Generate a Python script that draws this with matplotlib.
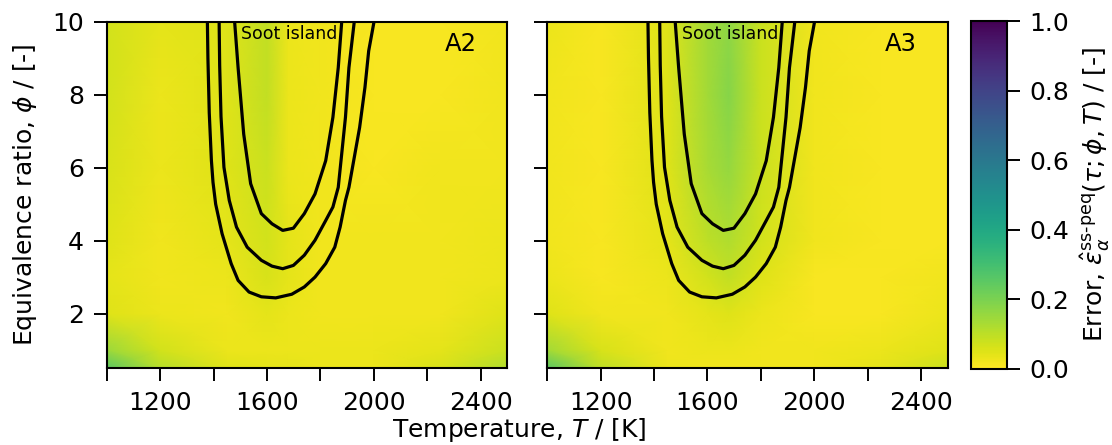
import matplotlib
matplotlib.use("Agg")
import matplotlib.pyplot as plt
import numpy as np

plt.rcParams['font.family'] = ['DejaVu Sans']
plt.rcParams['mathtext.fontset'] = 'dejavusans'

# grid of the error maps
T_nodes = [1000, 1200, 1450, 1600, 1680, 1800, 2000, 2250, 2500]
phi_nodes = [0.5, 1.0, 2.0, 3.0, 4.0, 6.0, 8.0, 10.0]

err_A2 = [
    [0.26, 0.11, 0.05, 0.04, 0.04, 0.03, 0.03, 0.06, 0.12],
    [0.15, 0.07, 0.03, 0.03, 0.03, 0.03, 0.03, 0.04, 0.08],
    [0.05, 0.03, 0.02, 0.04, 0.03, 0.02, 0.02, 0.02, 0.05],
    [0.04, 0.02, 0.03, 0.06, 0.04, 0.02, 0.02, 0.02, 0.03],
    [0.05, 0.02, 0.04, 0.07, 0.04, 0.02, 0.02, 0.02, 0.03],
    [0.06, 0.03, 0.05, 0.08, 0.03, 0.02, 0.01, 0.02, 0.02],
    [0.07, 0.03, 0.05, 0.09, 0.03, 0.02, 0.01, 0.01, 0.02],
    [0.07, 0.04, 0.05, 0.09, 0.03, 0.02, 0.01, 0.01, 0.02],
]

err_A3 = [
    [0.26, 0.10, 0.03, 0.02, 0.02, 0.02, 0.02, 0.04, 0.08],
    [0.14, 0.06, 0.02, 0.03, 0.03, 0.02, 0.02, 0.03, 0.05],
    [0.05, 0.02, 0.02, 0.04, 0.05, 0.03, 0.01, 0.01, 0.03],
    [0.03, 0.01, 0.03, 0.07, 0.09, 0.05, 0.01, 0.01, 0.02],
    [0.02, 0.01, 0.04, 0.10, 0.12, 0.07, 0.02, 0.01, 0.01],
    [0.02, 0.01, 0.05, 0.13, 0.16, 0.08, 0.02, 0.01, 0.01],
    [0.02, 0.01, 0.05, 0.14, 0.18, 0.08, 0.02, 0.01, 0.01],
    [0.03, 0.01, 0.05, 0.14, 0.17, 0.08, 0.02, 0.01, 0.01],
]

# soot island contour lines (T, phi)
outer_T = [1377, 1379, 1384, 1392, 1398, 1408, 1432, 1466, 1492, 1533, 1579,
           1633, 1693, 1740, 1780, 1820, 1854, 1874, 1894, 1907, 1927, 1947,
           1967, 1981, 2001]
outer_phi = [10.0, 9.0, 7.5, 6.2, 5.6, 5.0, 4.19, 3.37, 2.91, 2.59, 2.46,
             2.43, 2.53, 2.73, 3.00, 3.37, 3.82, 4.37, 5.10, 5.46, 6.28, 7.10,
             8.20, 9.20, 10.0]

middle_T = [1421, 1423, 1428, 1439, 1459, 1486, 1526, 1579, 1619, 1659, 1699,
            1740, 1780, 1820, 1847, 1867, 1880, 1894, 1907, 1927]
middle_phi = [10.0, 8.8, 7.4, 6.01, 5.10, 4.37, 3.82, 3.46, 3.30, 3.23, 3.32,
              3.60, 4.01, 4.55, 4.92, 5.46, 6.38, 7.38, 8.74, 10.0]

inner_T = [1479, 1492, 1513, 1539, 1579, 1619, 1659, 1699, 1740, 1780, 1820,
           1847, 1867, 1880]
inner_phi = [10.0, 8.74, 6.92, 5.56, 4.74, 4.46, 4.28, 4.34, 4.74, 5.28, 6.19,
             7.38, 8.74, 10.0]

panel_names = ['A2', 'A3']
panel_errs = [err_A2, err_A3]

W, H = 1112, 445
fig = plt.figure(figsize=(W / 100, H / 100), dpi=100)

def px_axes(x0, x1, y0, y1):
    return fig.add_axes([x0 / W, 1 - y1 / H, (x1 - x0) / W, (y1 - y0) / H])

ax1 = px_axes(106.7, 507.3, 21.7, 368.3)
ax2 = px_axes(547.3, 947.8, 21.7, 368.3)
cax = px_axes(970.7, 1007.3, 21.2, 368.8)

cmap = plt.get_cmap('viridis_r')
for ax, name, err in zip([ax1, ax2], panel_names, panel_errs):
    mesh = ax.pcolormesh(T_nodes, phi_nodes, np.array(err), cmap=cmap,
                         vmin=0, vmax=1, shading='gouraud', rasterized=True)
    for tt, pp in [(outer_T, outer_phi), (middle_T, middle_phi), (inner_T, inner_phi)]:
        ax.plot(tt, pp, color='black', lw=2.3, solid_joinstyle='round')
    ax.set_xlim(1000, 2500)
    ax.set_ylim(0.5, 10)
    ax.set_xticks([1200, 1600, 2000, 2400])
    ax.set_xticks([1000, 1400, 1800, 2200], minor=True)
    ax.set_yticks([2, 4, 6, 8, 10])
    ax.tick_params(axis='both', which='both', direction='out', length=9.2,
                   width=1.4, labelsize=18, pad=7)
    for sp in ax.spines.values():
        sp.set_linewidth(1.5)
    ax.text(1684, 9.9, 'Soot island', ha='center', va='top', fontsize=12.5)
    ax.text(2325, 9.38, name, ha='center', va='center', fontsize=17.5)

ax2.tick_params(axis='y', labelleft=False)

cb = fig.colorbar(mesh, cax=cax)
cb.set_ticks([0.0, 0.2, 0.4, 0.6, 0.8, 1.0])
cb.ax.tick_params(direction='out', length=9, width=1.4, labelsize=18, pad=7)
cb.outline.set_linewidth(1.5)

fig.text(25 / W, 1 - 195 / H, r'Equivalence ratio, $\phi$ / [-]', rotation=90,
         ha='center', va='center', fontsize=18)
fig.text(519 / W, 8 / H, r'Temperature, $T$ / [K]', ha='center', va='baseline',
         fontsize=18)
fig.text(1095 / W, 1 - 195 / H,
         r'Error, $\hat{\varepsilon}_{\alpha}^{\mathrm{ss\text{-}peq}}(\tau;\phi,T)$ / [-]',
         rotation=90, ha='center', va='center', fontsize=18)

fig.savefig('out.png', dpi=100)
